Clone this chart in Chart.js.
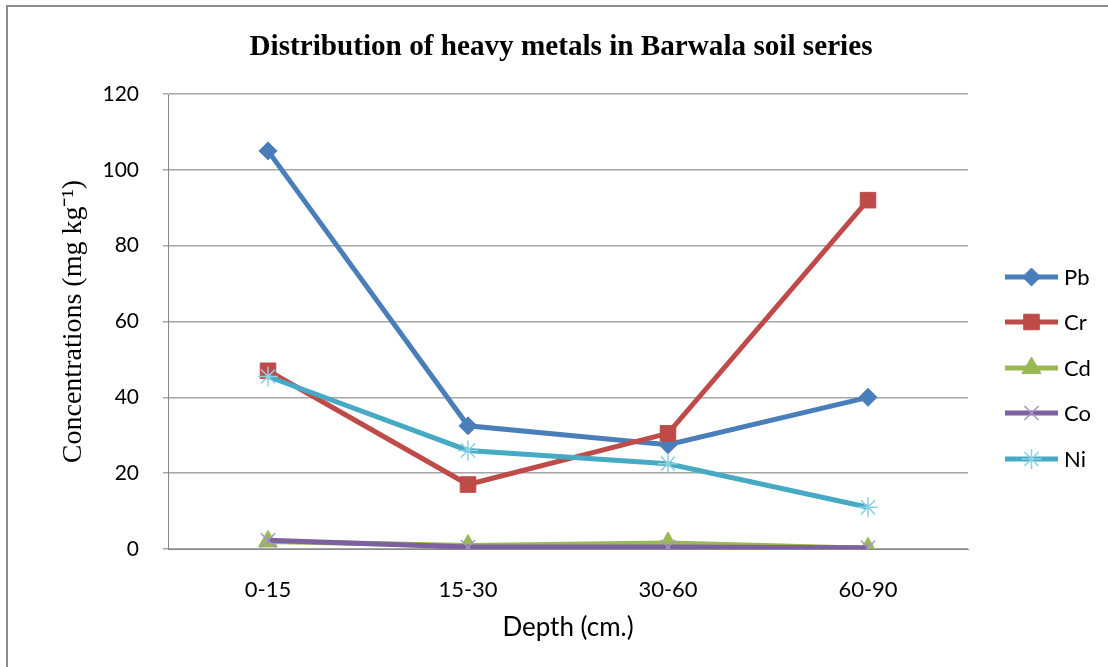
<!DOCTYPE html>
<html>
<head>
<meta charset="utf-8">
<script src="https://cdn.jsdelivr.net/npm/chart.js@4/dist/chart.umd.min.js"></script>
<style>
    html, body { margin: 0; padding: 0; background: #fff; }
    #wrap { position: relative; width: 1108px; height: 667px; }
    #frame {
        position: absolute; left: 6px; top: 5px; right: 0; bottom: 0;
        border-top: 2px solid #8c8c8c; border-left: 2px solid #8c8c8c;
        pointer-events: none;
    }
    canvas { position: absolute; left: 0; top: 0; }
</style>
</head>
<body>
<div id="wrap">
    <div id="frame"></div>
    <canvas id="chart" width="1108" height="667"></canvas>
</div>
<script>
// Data
const depths = ['0-15', '15-30', '30-60', '60-90'];
const pbValues = [105, 32.5, 27.5, 40];
const crValues = [47, 17, 30.5, 92];
const cdValues = [2.0, 0.9, 1.6, 0.2];
const coValues = [2.3, 0.5, 0.5, 0.3];
const niValues = [45.5, 26, 22.5, 11];
const yTicks = [0, 20, 40, 60, 80, 100, 120];

const chartTitle = 'Distribution of heavy metals in Barwala soil series';
const tickFont = { family: 'Lato', size: 21 };

// title is drawn by hand so it can sit centred on the whole frame
const topTitle = {
    id: 'topTitle',
    afterDraw(chart) {
        const ctx = chart.ctx;
        ctx.save();
        ctx.font = 'bold 30px "Liberation Serif"';
        ctx.fillStyle = '#000';
        ctx.textBaseline = 'middle';
        ctx.textAlign = 'center';
        const w = ctx.measureText(chartTitle).width;
        const sx = 623 / w;
        ctx.translate(561, 47);
        ctx.scale(sx, 1);
        ctx.fillText(chartTitle, 0, 0);
        ctx.restore();
    }
};

// draws the legend on the right, line + marker like the original
const sideLegend = {
    id: 'sideLegend',
    afterDraw(chart) {
        const ctx = chart.ctx;
        const x0 = 1005, x1 = 1058;
        const ys = [277, 322, 368, 413, 459];
        chart.data.datasets.forEach((ds, i) => {
            const y = ys[i];
            ctx.save();
            ctx.strokeStyle = ds.borderColor;
            ctx.lineWidth = ds.borderWidth;
            ctx.beginPath();
            ctx.moveTo(x0, y);
            ctx.lineTo(x1, y);
            ctx.stroke();
            ctx.fillStyle = ds.pointBackgroundColor;
            ctx.strokeStyle = ds.pointBorderColor;
            ctx.lineWidth = ds.pointBorderWidth;
            Chart.helpers.drawPoint(ctx, {
                pointStyle: ds.pointStyle,
                radius: ds.pointRadius,
                rotation: 0,
                borderWidth: ds.pointBorderWidth
            }, (x0 + x1) / 2, y);
            ctx.fillStyle = '#000';
            ctx.font = '22px Lato';
            ctx.textBaseline = 'middle';
            ctx.fillText(ds.label, 1064, y + 1);
            ctx.restore();
        });
    }
};

function series(label, data, color, markerColor, style, radius, order) {
    return {
        label: label,
        data: data,
        order: order,
        borderColor: color,
        borderWidth: 5,
        pointStyle: style,
        pointRadius: radius,
        pointHoverRadius: radius,
        pointBackgroundColor: markerColor,
        pointBorderColor: markerColor,
        pointBorderWidth: style === 'crossRot' || style === 'star' ? 1.5 : 1,
        tension: 0
    };
}

new Chart(document.getElementById('chart').getContext('2d'), {
    type: 'line',
    data: {
        labels: depths,
        datasets: [
            series('Pb', pbValues, '#4a7ebb', '#4a7ebb', 'rectRot', 9, 5),
            series('Cr', crValues, '#be4b48', '#be4b48', 'rect', 11, 4),
            series('Cd', cdValues, '#98b954', '#98b954', 'triangle', 11, 3),
            series('Co', coValues, '#7d60a0', '#a796c4', 'crossRot', 10, 2),
            series('Ni', niValues, '#46aac5', '#8dd0e2', 'star', 10, 1)
        ]
    },
    options: {
        responsive: false,
        animation: false,
        layout: { padding: { left: 0, right: 140, top: 94, bottom: 0 } },
        plugins: {
            legend: { display: false },
            tooltip: { enabled: false },
            title: { display: false }
        },
        scales: {
            x: {
                offset: true,
                grid: { display: false, drawTicks: false },
                border: { display: true, color: '#888', width: 1 },
                ticks: { color: '#000', font: { family: 'Lato', size: 22 }, padding: 28, maxRotation: 0 },
                title: {
                    display: true,
                    text: 'Depth (cm.)',
                    color: '#000',
                    font: { family: 'Lato', size: 26 },
                    padding: { top: 0, bottom: 24 }
                },
                afterFit(scale) { scale.height = 118; }
            },
            y: {
                min: 0,
                max: 120,
                afterBuildTicks(scale) { scale.ticks = yTicks.map(v => ({ value: v })); },
                grid: { color: '#a6a6a6', lineWidth: 1.5, tickLength: 5 },
                border: { display: true, color: '#888', width: 1 },
                ticks: { color: '#000', font: tickFont, padding: 24 },
                title: {
                    display: true,
                    text: 'Concentrations (mg kg⁻¹)',
                    color: '#000',
                    font: { family: 'Liberation Serif', size: 28 },
                    padding: { top: 57, bottom: 0 }
                },
                afterFit(scale) { scale.width = 168; }
            }
        }
    },
    plugins: [sideLegend, topTitle]
});
</script>
</body>
</html>
